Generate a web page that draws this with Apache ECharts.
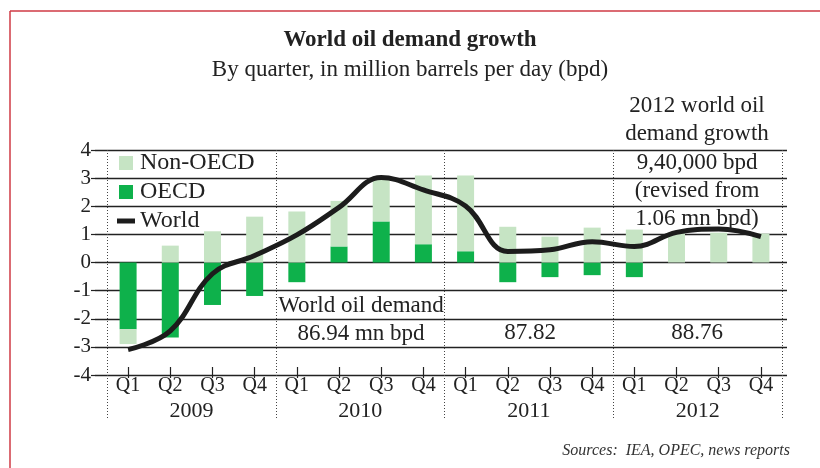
<!DOCTYPE html>
<html>
<head>
<meta charset="utf-8">
<script src="https://cdn.jsdelivr.net/npm/echarts@6/dist/echarts.min.js"></script>
<style>
  html, body { margin: 0; padding: 0; background: #fff; }
  #chart { width: 820px; height: 468px; }
</style>
</head>
<body>
<div id="chart"></div>
<script>
var quarters = ['Q1','Q2','Q3','Q4','Q1','Q2','Q3','Q4','Q1','Q2','Q3','Q4','Q1','Q2','Q3','Q4'];
var years = ['2009', '2010', '2011', '2012'];
var yTicks = [-4, 4, 1]; // min, max, step

// million bpd
var oecd    = [-2.37, -2.67, -1.51, -1.19, -0.70, 0.57, 1.46, 0.65, 0.40, -0.70, -0.52, -0.45, -0.52, 0, 0, 0];
var nonOecd = [-0.53, 0.60, 1.11, 1.63, 1.81, 1.62, 1.50, 2.44, 2.69, 1.27, 0.92, 1.24, 1.17, 1.07, 1.06, 1.03];
var world   = [-3.10, -2.43, -0.40, 0.25, 0.98, 1.96, 3.02, 2.58, 2.01, 0.39, 0.45, 0.74, 0.57, 1.07, 1.19, 0.92];

var serif = '"Liberation Serif", "DejaVu Serif", serif';
var darkGreen = '#0eb14b';
var lightGreen = '#c6e4c4';

var chart = echarts.init(document.getElementById('chart'));

var option = {
    backgroundColor: '#fff',
    animation: false,
    textStyle: { fontFamily: serif, color: '#222' },
    title: [
        {
            text: 'World oil demand growth',
            left: 'center', top: 24,
            textStyle: { fontFamily: serif, fontSize: 23, fontWeight: 'bold', color: '#222' }
        },
        {
            text: 'By quarter, in million barrels per day (bpd)',
            left: 'center', top: 53,
            textStyle: { fontFamily: serif, fontSize: 23, fontWeight: 'normal', color: '#222' }
        }
    ],
    legend: {
        orient: 'vertical',
        left: 112, top: 146,
        itemWidth: 18, itemHeight: 14,
        itemGap: 5,
        textStyle: { fontFamily: serif, fontSize: 24, color: '#222' },
        data: [
            { name: 'Non-OECD', icon: 'path://M0,0h14v14h-14z' },
            { name: 'OECD', icon: 'path://M0,0h14v14h-14z' },
            { name: 'World', icon: 'path://M0,0h18v5h-18z', itemStyle: { color: '#1c1c1c' } }
        ]
    },
    grid: [
        { left: 95, right: 33, top: 150, bottom: 93 },
        { left: 107, right: 38, top: 150, bottom: 93 }
    ],
    xAxis: [
        { gridIndex: 0, type: 'value', show: false, min: 0, max: 1 },
        {
            gridIndex: 1, type: 'category', data: quarters,
            position: 'bottom', offset: -8,
            axisLine: { show: false, onZero: false },
            axisTick: { show: true, alignWithLabel: true, length: 11, lineStyle: { color: '#222', width: 1.2 } },
            axisLabel: { margin: 9, fontFamily: serif, fontSize: 20, color: '#222' },
            splitLine: { show: false }
        },
        {
            gridIndex: 1, type: 'category', data: years,
            position: 'bottom',
            axisLine: { show: false, onZero: false },
            axisTick: { show: true, length: 44, lineStyle: { color: '#444', width: 1, type: [1, 2] } },
            axisLabel: { margin: 25, fontFamily: serif, fontSize: 22, color: '#222' },
            splitLine: { show: true, lineStyle: { color: '#444', width: 1, type: [1, 2] } }
        }
    ],
    yAxis: [
        {
            gridIndex: 0, type: 'value',
            min: yTicks[0], max: yTicks[1], interval: yTicks[2],
            axisLine: { show: false },
            axisTick: { show: true, length: 4, lineStyle: { color: '#222', width: 1.2 } },
            axisLabel: { margin: 4, fontFamily: serif, fontSize: 21, color: '#222' },
            splitLine: { show: true, lineStyle: { color: '#222', width: 1.3 } }
        },
        {
            gridIndex: 1, type: 'value',
            min: yTicks[0], max: yTicks[1], interval: yTicks[2],
            show: false, splitLine: { show: false }
        }
    ],
    series: [
        {
            name: 'OECD', type: 'bar', xAxisIndex: 1, yAxisIndex: 1,
            stack: 'demand', barWidth: 17,
            itemStyle: { color: darkGreen },
            data: oecd
        },
        {
            name: 'Non-OECD', type: 'bar', xAxisIndex: 1, yAxisIndex: 1,
            stack: 'demand', barWidth: 17,
            itemStyle: { color: lightGreen },
            data: nonOecd
        },
        {
            name: 'World', type: 'line', xAxisIndex: 1, yAxisIndex: 1,
            smooth: 0.4, symbol: 'none', z: 5,
            lineStyle: { color: '#1c1c1c', width: 5 },
            itemStyle: { color: '#1c1c1c' },
            data: world
        }
    ],
    graphic: [
        // red frame
        { type: 'line', shape: { x1: 10, y1: 11, x2: 820, y2: 11 }, style: { stroke: '#cf3a45', lineWidth: 1.5 } },
        { type: 'line', shape: { x1: 10, y1: 11, x2: 10, y2: 468 }, style: { stroke: '#cf3a45', lineWidth: 1.5 } },
        {
            type: 'text', x: 361, y: 292, z: 10,
            style: { text: 'World oil demand\n86.94 mn bpd', align: 'center',
                     font: '23px ' + serif, fill: '#222', lineHeight: 28 }
        },
        {
            type: 'text', x: 530, y: 321, z: 10,
            style: { text: '87.82', align: 'center', font: '23px ' + serif, fill: '#222' }
        },
        {
            type: 'text', x: 697, y: 321, z: 10,
            style: { text: '88.76', align: 'center', font: '23px ' + serif, fill: '#222' }
        },
        {
            type: 'text', x: 697, y: 92, z: 10,
            style: { text: '2012 world oil\ndemand growth\n9,40,000 bpd\n(revised from\n1.06 mn bpd)',
                     align: 'center', font: '23px ' + serif, fill: '#222', lineHeight: 28.3 }
        },
        {
            type: 'text', x: 790, y: 443,
            style: { text: 'Sources:  IEA, OPEC, news reports', align: 'right',
                     font: 'italic 16px ' + serif, fill: '#333' }
        }
    ]
};

chart.setOption(option);
</script>
</body>
</html>
